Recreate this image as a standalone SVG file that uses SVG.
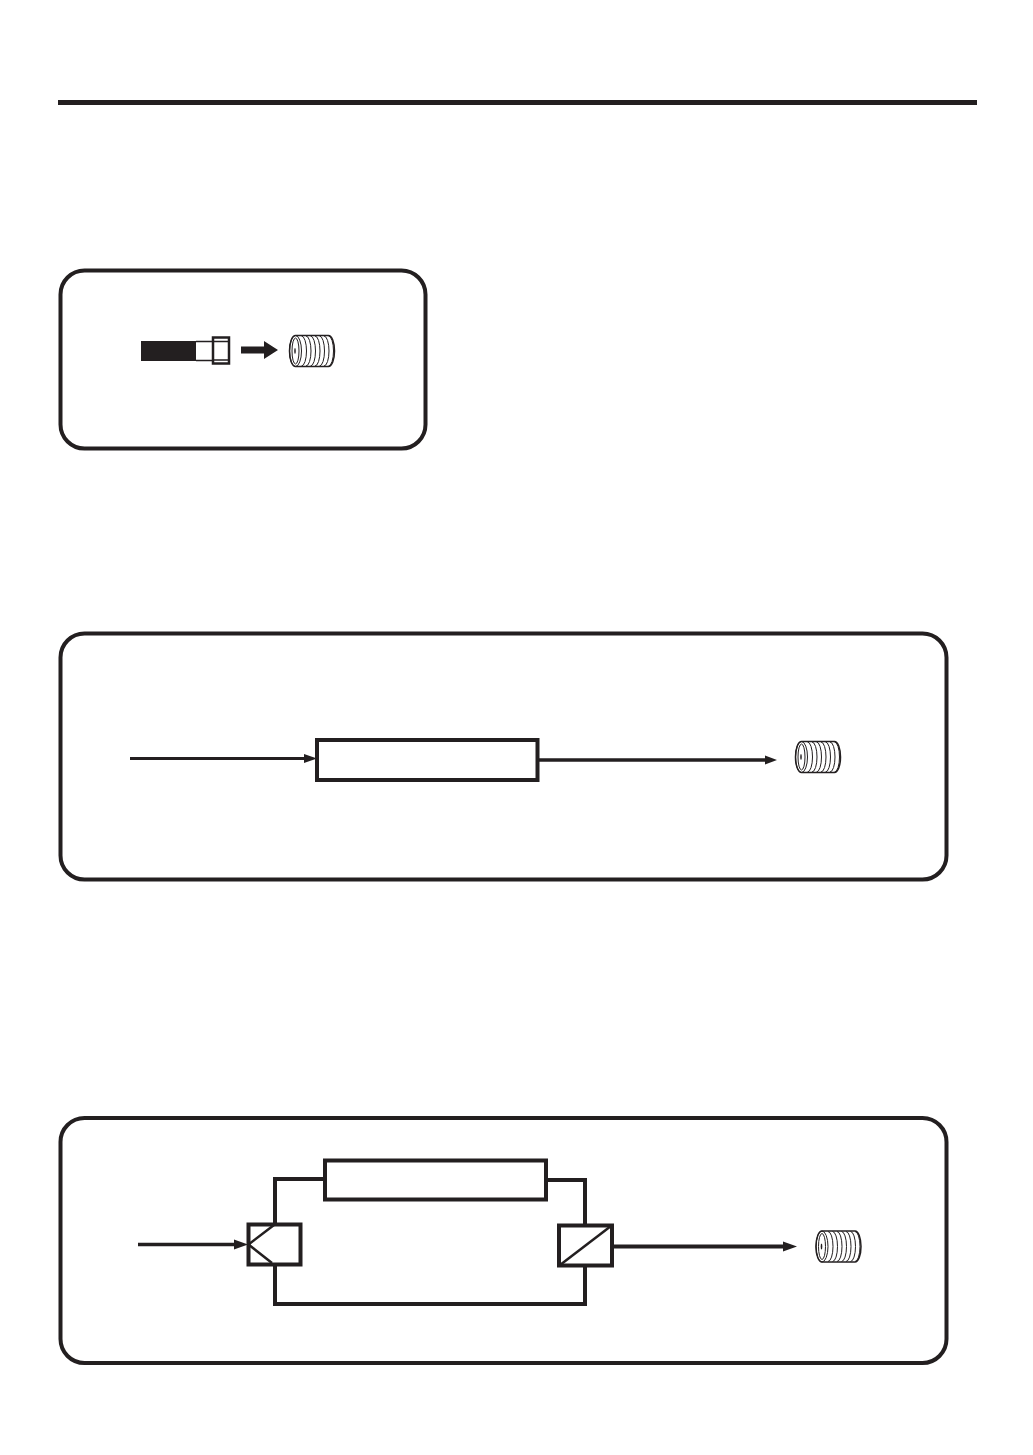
<svg xmlns="http://www.w3.org/2000/svg" xmlns:xlink="http://www.w3.org/1999/xlink" width="1033" height="1455" viewBox="0 0 1033 1455">
<style>
.ink{fill:none;stroke:#231f20;stroke-width:4}
.panel{fill:#fff;stroke:#231f20;stroke-width:4}
.box{fill:#fff;stroke:#231f20;stroke-width:4}
.thin{fill:none;stroke:#231f20;stroke-width:3}
.coil{fill:none;stroke:#231f20;stroke-width:1}
.solid{fill:#231f20;stroke:none}
</style>
<defs>
<g id="jack">
<path d="M7 1H40A6 15.500 0 0 1 40 32H7A6 15.500 0 0 1 7 1Z" fill="#fff" stroke="#231f20" stroke-width="1.500"/>
<ellipse class="coil" cx="7" cy="16.500" rx="6" ry="15.500"/>
<ellipse class="coil" cx="7" cy="16.500" rx="3.500" ry="13"/>
<ellipse class="solid" cx="6.500" cy="16.500" rx="0.800" ry="3"/>
<path class="coil" d="M13 1.500A5 15 0 0 1 13 31.500M17.500 1.500A5 15 0 0 1 17.500 31.500M22 1.500A5 15 0 0 1 22 31.500M26.500 1.500A5 15 0 0 1 26.500 31.500M31 1.500A5 15 0 0 1 31 31.500M35.500 1.500A5 15 0 0 1 35.500 31.500M40 1.500A5 15 0 0 1 40 31.500"/>
</g>
</defs>
<rect width="1033" height="1455" fill="#fff"/>
<rect id="top-rule" x="58" y="100" width="919" height="5" class="solid"/>

<g id="panel-1"><rect class="panel" x="60.500" y="270.500" width="365" height="178" rx="24"/></g>
<g id="panel-2"><rect class="panel" x="60.500" y="633.500" width="886" height="246" rx="24"/></g>
<g id="panel-3"><rect class="panel" x="60.500" y="1118" width="886" height="245" rx="24"/></g>

<g id="connectors">
<path class="thin" d="M130 758.500H306"/>
<polygon class="solid" points="317,758.500 304,754 304,763"/>
<path class="thin" style="stroke-width:3.500" d="M538 760H766"/>
<polygon class="solid" points="777,760 765,755.500 765,764.500"/>
<path class="ink" d="M275 1224V1179H325"/>
<path class="ink" d="M546 1180H585V1225"/>
<path class="ink" d="M275 1264V1304H585V1266"/>
<path class="ink" style="stroke-width:3.500" d="M138 1244.500H236"/>
<polygon class="solid" points="248,1244.500 234,1239.500 234,1249.500"/>
<path class="ink" d="M612 1246.500H785"/>
<polygon class="solid" points="797,1246.500 783,1241.500 783,1251.500"/>
</g>

<g id="cable">
<rect class="solid" x="141" y="341" width="55" height="20"/>
<path fill="#fff" stroke="#231f20" stroke-width="1.500" d="M196 341.500H213V360.500H196"/>
<rect x="213" y="337.500" width="16" height="26" fill="#fff" stroke="#231f20" stroke-width="2.500"/>
<path fill="none" stroke="#231f20" stroke-width="1.500" d="M213 341.500H229M213 360H229"/>
<polygon id="cable-arrow" class="solid" points="241,346.500 264,346.500 264,341 278,350 264,359 264,353.500 241,353.500"/>
</g>
<g id="jack-1"><use href="#jack" x="288.500" y="334.500"/></g>

<g id="block-2"><rect class="box" x="317" y="740" width="220.500" height="40"/></g>
<g id="jack-2"><use href="#jack" x="794.500" y="740.500"/></g>

<g id="block-3"><rect class="box" x="325" y="1160.500" width="221" height="39"/></g>
<g id="splitter">
<rect class="box" x="248.500" y="1224.500" width="52" height="40"/>
<path class="ink" style="stroke-width:2.500" d="M248.500 1244.500L274 1225M248.500 1244.500L272 1263"/>
</g>
<g id="combiner">
<rect class="box" x="559" y="1225.500" width="53" height="40"/>
<path class="ink" style="stroke-width:2.500" d="M560 1265L611 1226"/>
</g>
<g id="jack-3"><use href="#jack" x="815" y="1230"/></g>
</svg>
